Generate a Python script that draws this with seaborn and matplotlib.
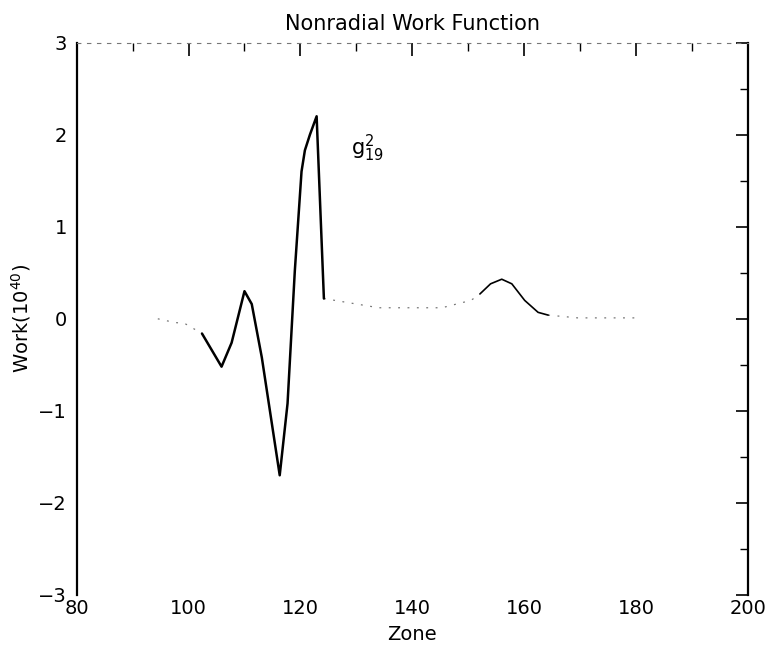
import matplotlib
matplotlib.use("Agg")
import matplotlib.pyplot as plt
import seaborn as sns
import pandas as pd
from matplotlib.ticker import MultipleLocator

# ---- data ----
zone = [94.5, 97.5, 99.3, 102.4, 105.9, 107.7, 110.0, 111.3, 113.1, 114.2,
        116.3, 117.7, 119.0, 120.2, 120.8, 121.7, 122.9, 124.2, 134.0, 140.0,
        145.3, 150.5, 152.1, 154.0, 156.0, 157.8, 160.1, 162.5, 164.3, 169.6,
        180.2]
work = [0.0, -0.04, -0.05, -0.16, -0.52, -0.26, 0.30, 0.16, -0.42, -0.86,
        -1.70, -0.92, 0.52, 1.60, 1.83, 2.00, 2.20, 0.22, 0.12, 0.12,
        0.12, 0.20, 0.27, 0.38, 0.43, 0.38, 0.20, 0.07, 0.04, 0.01,
        0.01]
x_ticks = [80, 100, 120, 140, 160, 180, 200]
y_ticks = [-3, -2, -1, 0, 1, 2, 3]
title = "Nonradial Work Function"
x_label = "Zone"
y_label = r"Work(10$^{40}$)"
annotation = r"g$^{2}_{19}$"

df = pd.DataFrame({"zone": zone, "work": work})

sns.set_theme(style="white")
plt.rcParams["font.family"] = ["DejaVu Sans"]
plt.rcParams["text.color"] = "black"
plt.rcParams["axes.labelcolor"] = "black"
plt.rcParams["axes.titlecolor"] = "black"

fig = plt.figure(figsize=(7.67, 6.46), dpi=100)
ax = fig.add_axes([0.100, 0.079, 0.875, 0.855])

# faint (low-amplitude) parts of the curve
for a, b in [(0, 4), (17, 23), (28, len(zone))]:
    sns.lineplot(data=df.iloc[a:b], x="zone", y="work", ax=ax, color="#777777",
                 linewidth=0.9, linestyle=(0, (1.5, 6)), sort=False)
# strong parts
sns.lineplot(data=df.iloc[3:18], x="zone", y="work", ax=ax, color="black",
             linewidth=1.8, sort=False)
sns.lineplot(data=df.iloc[22:29], x="zone", y="work", ax=ax, color="black",
             linewidth=1.2, sort=False)

ax.set_xlim(80, 200)
ax.set_ylim(-3, 3)
ax.set_xticks(x_ticks)
ax.set_yticks(y_ticks)
ax.xaxis.set_minor_locator(MultipleLocator(10))
ax.yaxis.set_minor_locator(MultipleLocator(0.5))
ax.tick_params(axis="both", which="both", direction="in", top=True, right=True,
               colors="black", labelsize=14)
ax.tick_params(axis="both", which="major", length=9, width=1.2)
ax.tick_params(axis="both", which="minor", length=6, width=1.0)
ax.tick_params(axis="y", which="both", pad=7)
ax.tick_params(axis="x", which="both", pad=3)

for s in ["left", "right"]:
    ax.spines[s].set_color("black")
    ax.spines[s].set_linewidth(1.6)
ax.spines["top"].set_color("#777777")
ax.spines["top"].set_linewidth(0.8)
ax.spines["top"].set_linestyle((0, (3, 6)))
ax.spines["bottom"].set_visible(False)

ax.set_title(title, fontsize=15, pad=9)
ax.set_xlabel(x_label, fontsize=14, labelpad=5)
ax.set_ylabel(y_label, fontsize=14, labelpad=4)
ax.text(132.0, 1.85, annotation, fontsize=15, ha="center", va="center")

fig.savefig("out.png", dpi=100)
